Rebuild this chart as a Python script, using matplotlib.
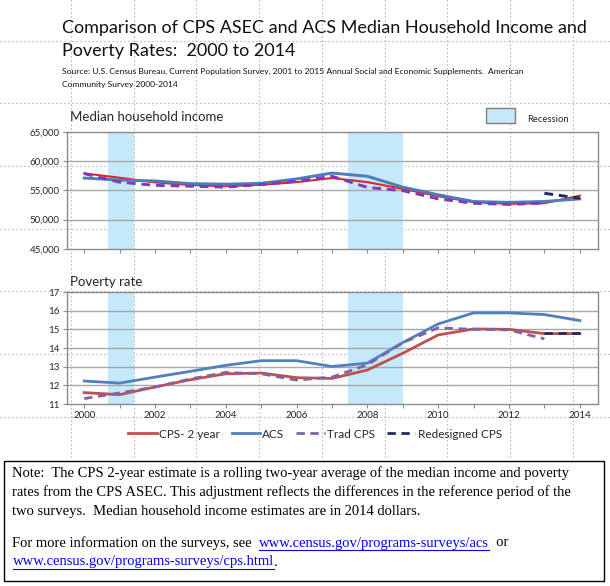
import matplotlib
matplotlib.use('Agg')
import matplotlib.pyplot as plt
from matplotlib.patches import Rectangle

# ---- data ----
years = list(range(2000, 2015))
even_labels = [str(y) if y % 2 == 0 else '' for y in years]

inc_cps2 = [57900, 57150, 56350, 55900, 55700, 55950, 56400, 57100, 56400, 55260,
            54000, 52970, 52690, 52800, 54100]
inc_acs = [57100, 56750, 56600, 56150, 56050, 56200, 56950, 57950, 57400, 55550,
           54250, 53100, 52950, 53100, 53550]
inc_trad = [57850, 56400, 55850, 55700, 55550, 56000, 56550, 57400, 55500, 54950,
            53550, 52800, 52600, 52850]
inc_redesigned = [54500, 53650]

pov_cps2 = [11.61, 11.50, 11.91, 12.30, 12.62, 12.66, 12.41, 12.37, 12.82, 13.72,
            14.70, 15.02, 15.00, 14.77, 14.77]
pov_acs = [12.23, 12.12, 12.44, 12.75, 13.07, 13.32, 13.32, 13.01, 13.19, 14.29,
           15.29, 15.88, 15.88, 15.79, 15.47]
pov_trad = [11.29, 11.59, 11.91, 12.34, 12.69, 12.62, 12.28, 12.44, 13.10, 14.29,
            15.08, 15.00, 14.97, 14.49]
pov_redesigned = [14.79, 14.79]

recessions = [(2000.68, 2001.41), (2007.44, 2009.01)]

inc_ticks = [45000, 50000, 55000, 60000, 65000]
pov_ticks = [11, 12, 13, 14, 15, 16, 17]

W, H = 610, 586
SANS = 'Lato'
SERIF = 'Liberation Serif'
band_color = '#C5E8FA'
frame_color = '#8C8C8C'
grid_color = '#A6A6A6'
NOTE_SIZE = 10.5

fig = plt.figure(figsize=(W / 100, H / 100), dpi=100)

# background layer in pixel coordinates (slide guides, texts, note box)
bg = fig.add_axes([0, 0, 1, 1], zorder=0)
bg.set_xlim(0, W)
bg.set_ylim(H, 0)
bg.axis('off')

guide_style = dict(color='#9E9E9E', lw=0.8, ls=(0, (1, 2.6)))
for i in range(9):
    gx = 70.7 + 62.8 * i
    bg.plot([gx, gx], [0, 459], **guide_style)
for i in range(7):
    gy = 40.5 + 62.7 * i
    bg.plot([0, W], [gy, gy], **guide_style)


def px_axes(left, top, right, bottom):
    a = fig.add_axes([left / W, 1 - bottom / H, (right - left) / W, (bottom - top) / H], zorder=2)
    a.set_facecolor('none')
    return a


def style_axes(a, ylo, yhi, yticks):
    a.set_xlim(1999.5, 2014.5)
    a.set_ylim(ylo, yhi)
    a.set_yticks(yticks)
    for t in yticks[1:-1]:
        a.axhline(t, color=grid_color, lw=1.0, zorder=0.5)
    for s in a.spines.values():
        s.set_color(frame_color)
        s.set_linewidth(1.0)
    a.set_xticks(years)
    a.tick_params(axis='both', direction='out', length=3, width=0.8,
                  color=frame_color, labelsize=7.0, labelcolor='#262626', pad=2)
    for lo, hi in recessions:
        a.axvspan(lo, hi, color=band_color, lw=0, zorder=0.2)


# ---- income panel ----
ax1 = px_axes(66.5, 131.7, 597.5, 249)
style_axes(ax1, 45000, 65000, inc_ticks)
ax1.set_yticklabels([f'{v:,}' for v in inc_ticks], family=SANS)
ax1.set_xticklabels([])
ax1.plot(years, inc_cps2, color='#E8211E', lw=1.5, zorder=3)
ax1.plot(years, inc_acs, color='#4A7EBB', lw=2.1, zorder=3)
ax1.plot(years[:14], inc_trad, color='#7B3BC0', lw=2.1, ls=(0, (3, 2)), zorder=4)
ax1.plot(years[13:], inc_redesigned, color='#1A2A5E', lw=2.1, ls=(0, (3, 2)), zorder=5)

# ---- poverty panel ----
ax2 = px_axes(66.5, 292, 597.5, 404)
style_axes(ax2, 11, 17, pov_ticks)
ax2.set_yticklabels([str(v) for v in pov_ticks], family=SANS)
ax2.set_xticklabels(even_labels, family=SANS)
l1, = ax2.plot(years, pov_cps2, color='#C0504D', lw=2.0, zorder=3, label='CPS- 2 year')
l2, = ax2.plot(years, pov_acs, color='#4F81BD', lw=2.0, zorder=3, label='ACS')
l3, = ax2.plot(years[:14], pov_trad, color='#8064A2', lw=2.0, ls=(0, (3, 2)), zorder=4,
               label='Trad CPS')
l4, = ax2.plot(years[13:], pov_redesigned, color='#1F2D5C', lw=2.0, ls=(0, (3, 2)), zorder=5,
               label='Redesigned CPS')

leg = ax2.legend(handles=[l1, l2, l3, l4], loc='center', ncol=4, frameon=False,
                 bbox_to_anchor=(315 / W, 1 - 434 / H), bbox_transform=fig.transFigure,
                 prop={'family': SANS, 'size': 8.5}, handlelength=2.4,
                 handletextpad=0.2, columnspacing=1.0)
for t in leg.get_texts():
    t.set_color('#262626')

# ---- titles and labels ----
bg.text(62, 28, 'Comparison of CPS ASEC and ACS Median Household Income and',
        family=SANS, fontsize=12.95, color='#111111', va='center', ha='left')
bg.text(62, 51, 'Poverty Rates:  2000 to 2014',
        family=SANS, fontsize=12.95, color='#111111', va='center', ha='left')
bg.text(62, 71, 'Source: U.S. Census Bureau, Current Population Survey, 2001 to 2015 Annual '
        'Social and Economic Supplements.  American',
        family=SANS, fontsize=6.1, color='#111111', va='center', ha='left')
bg.text(62, 85, 'Community Survey 2000-2014',
        family=SANS, fontsize=6.1, color='#111111', va='center', ha='left')

bg.text(70, 117, 'Median household income', family=SANS, fontsize=9.5,
        color='#262626', va='center', ha='left')
bg.text(70, 282, 'Poverty rate', family=SANS, fontsize=9.5,
        color='#262626', va='center', ha='left')

bg.add_patch(Rectangle((486, 108), 29, 15, facecolor=band_color,
                       edgecolor='#7F7F7F', lw=1.0, zorder=3))
bg.text(527, 119, 'Recession', family=SANS, fontsize=6.8, color='#262626',
        va='center', ha='left')

# ---- note box ----
bg.add_patch(Rectangle((3.5, 461), 600, 120, facecolor='white',
                       edgecolor='black', lw=1.0, zorder=4))
note_lines = [
    'Note:  The CPS 2-year estimate is a rolling two-year average of the median income and poverty',
    'rates from the CPS ASEC. This adjustment reflects the differences in the reference period of the',
    'two surveys.  Median household income estimates are in 2014 dollars.',
]
note_y = [473, 492, 511]
for s, y in zip(note_lines, note_y):
    bg.text(12.5, y, s, family=SERIF, fontsize=NOTE_SIZE, color='black',
            va='center', ha='left', zorder=5)

link_color = '#0000EE'
fig.canvas.draw()
renderer = fig.canvas.get_renderer()
inv = bg.transData.inverted()


def right_edge(t):
    bb = t.get_window_extent(renderer)
    return inv.transform((bb.x1, bb.y0))[0]


def place_link(x, y, s):
    t = bg.text(x, y, s, family=SERIF, fontsize=NOTE_SIZE, color=link_color,
                va='center', ha='left', zorder=5)
    bb = t.get_window_extent(renderer)
    x0 = inv.transform((bb.x0, bb.y0))[0]
    x1 = inv.transform((bb.x1, bb.y0))[0]
    bg.plot([x0, x1], [y + 6.5, y + 6.5], color=link_color, lw=0.8, zorder=5)
    return t


t_more = bg.text(12.5, 543, 'For more information on the surveys, see  ', family=SERIF,
                 fontsize=NOTE_SIZE, color='black', va='center', ha='left', zorder=5)
t_acs = place_link(right_edge(t_more), 543, 'www.census.gov/programs-surveys/acs')
bg.text(right_edge(t_acs), 543, '  or', family=SERIF, fontsize=NOTE_SIZE, color='black',
        va='center', ha='left', zorder=5)
t_cps = place_link(12.5, 562, 'www.census.gov/programs-surveys/cps.html')
bg.text(right_edge(t_cps), 562, '.', family=SERIF, fontsize=NOTE_SIZE, color='black',
        va='center', ha='left', zorder=5)

fig.savefig('out.png', dpi=100, facecolor='white')
